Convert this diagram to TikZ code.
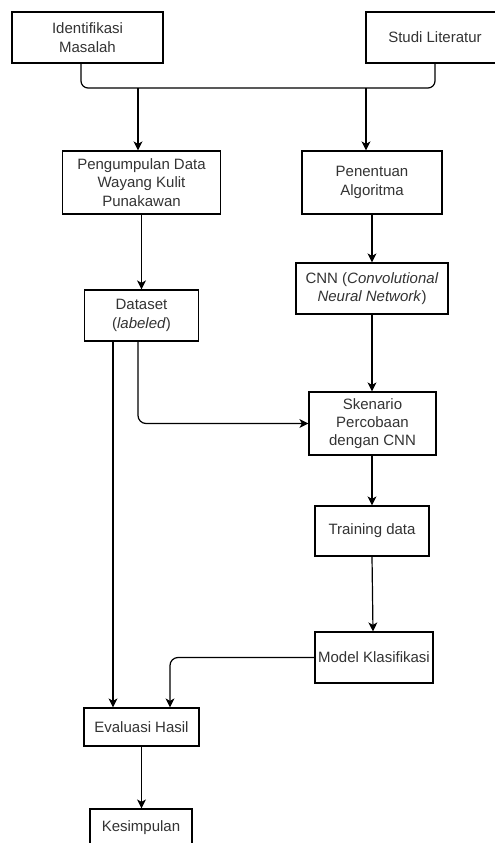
\documentclass[tikz,border=0pt]{standalone}
\usepackage{fontspec}
\setmainfont{Liberation Sans}
\usetikzlibrary{arrows.meta}
\definecolor{txt}{HTML}{333333}
\tikzset{
  box/.style={draw=black, line width=1.2pt, fill=white, align=center, text=txt,
    inner sep=1pt, font=\fontsize{15pt}{18.3pt}\selectfont},
  arr/.style={draw=black, line width=1.2pt, -{Stealth[length=9pt,width=9pt,inset=2.5pt]}},
  ln/.style={draw=black, line width=1.2pt},
}
\begin{document}
\begin{tikzpicture}[x=1pt,y=1pt]
\useasboundingbox (0,0) rectangle (495,-843);
% nodes
\node[box, minimum width=151pt, minimum height=51pt] (idm) at (87.5,-37.5) {Identifikasi\\Masalah};
\node[box, minimum width=138pt, minimum height=51pt] (studi) at (435,-37.5) {Studi Literatur};
\node[box, minimum width=158pt, minimum height=63pt] (pengumpulan) at (141.5,-182.5) {Pengumpulan Data\\Wayang Kulit\\Punakawan};
\node[box, minimum width=140pt, minimum height=63pt] (penentuan) at (372,-182.5) {Penentuan\\Algoritma};
\node[box, minimum width=114pt, minimum height=51pt] (dataset) at (141.5,-315.5) {Dataset\\(\textit{labeled})};
\node[box, minimum width=152pt, minimum height=51pt] (cnn) at (372,-288.5) {CNN (\textit{Convolutional}\\\textit{Neural Network})};
\node[box, minimum width=127pt, minimum height=63pt] (skenario) at (372.5,-423.5) {Skenario\\Percobaan\\dengan CNN};
\node[box, minimum width=114pt, minimum height=50pt] (training) at (372,-531) {Training data};
\node[box, minimum width=118pt, minimum height=51pt, inner sep=0pt] (model) at (374,-657.5) {Model Klasifikasi};
\node[box, minimum width=115pt, minimum height=38pt] (evaluasi) at (141.5,-727) {Evaluasi Hasil};
\node[box, minimum width=102pt, minimum height=38pt] (kesimpulan) at (141,-828) {Kesimpulan};
% junctions
\coordinate (j1) at (138,-88);
\coordinate (j2) at (366,-88);
% connectors
\draw[ln, rounded corners=7pt] ([xshift=-6.5pt]idm.south) |- (studi.south |- j1) -- (studi.south);
\draw[arr] (j1) -- (j1 |- pengumpulan.north);
\draw[arr] (j2) -- (j2 |- penentuan.north);
\draw[arr] (pengumpulan.south) -- (dataset.north);
\draw[arr] (penentuan.south) -- (cnn.north);
\draw[arr] (cnn.south) -- (cnn.south |- skenario.north);
\draw[arr, rounded corners=8pt] ([xshift=-3.5pt]dataset.south) |- (skenario.west);
\draw[arr] ([xshift=-28.5pt]dataset.south) -- ([xshift=-28.5pt]evaluasi.north);
\draw[arr] (skenario.south -| training.south) -- (training.north);
\draw[arr] (training.south) -- ([xshift=-1pt]model.north);
\draw[arr, rounded corners=8pt] (model.west) -| ([xshift=28.5pt]evaluasi.north);
\draw[arr] (evaluasi.south) -- (evaluasi.south |- kesimpulan.north);
\end{tikzpicture}
\end{document}
